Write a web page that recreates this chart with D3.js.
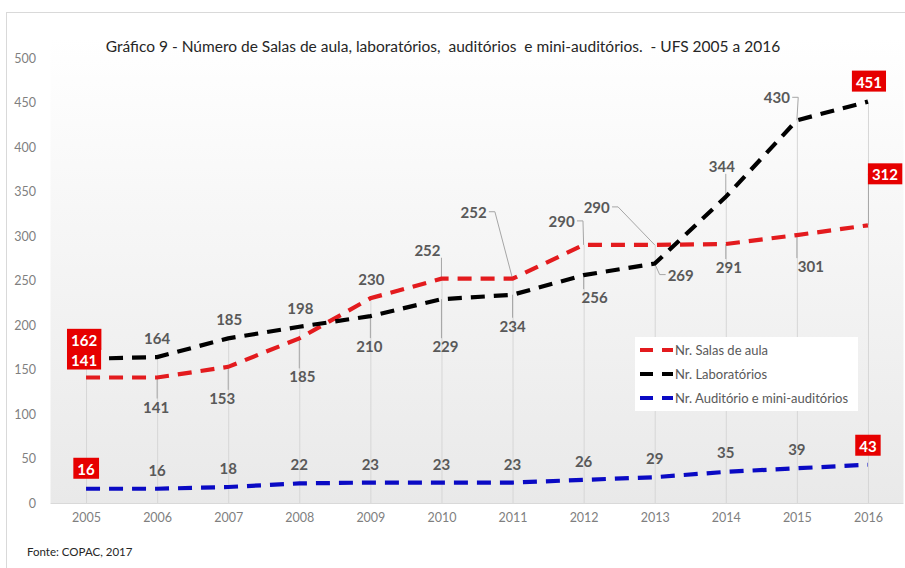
<!DOCTYPE html>
<html><head><meta charset="utf-8">
<script src="https://cdn.jsdelivr.net/npm/d3@7"></script>
<style>
body{margin:0;background:#fff;}
svg{display:block;font-family:Lato,"Open Sans",sans-serif;}
</style></head>
<body><svg id="c" width="905" height="568"></svg>
<script>
const years = ["2005","2006","2007","2008","2009","2010","2011","2012","2013","2014","2015","2016"];
const salas = [141,141,153,185,230,252,252,290,290,291,301,312];
const labs = [162,164,185,198,210,229,234,256,269,344,430,451];
const audit = [16,16,18,22,23,23,23,26,29,35,39,43];
const seriesNames = ["Nr. Salas de aula","Nr. Laboratórios","Nr. Auditório e mini-auditórios"];
const yTicks = [0,50,100,150,200,250,300,350,400,450,500];
const titleText = "Gráfico 9 - Número de Salas de aula, laboratórios,  auditórios  e mini-auditórios.  - UFS 2005 a 2016";
const sourceText = "Fonte: COPAC, 2017";

// label placement offsets (dx, dy from point, in px) -- layout only
const labelOffsets = [
  [[-2,-18],[-1,29],[-6,31],[3,38],[1,-19],[-14,-29],[-39,-67],[-22,-24],[-58,-38],[3,23],[14,31],[17,-51]],
  [[-2,-19],[0,-19],[1,-19],[1,-19],[-1,30],[4,47],[0,31],[11,22],[26,11],[-4,-31],[-20,-23],[1,-20]],
  [[0,-20],[0,-19],[0,-19],[0,-19],[0,-19],[0,-19],[0,-19],[0,-19],[0,-19],[0,-20],[0,-19],[0,-19]]
];

const svg = d3.select("#c");
const plotL = 50.5, plotR = 903.5, plotT = 58, plotB = 503;

const x = d3.scalePoint().domain(years).range([plotL, plotR]).padding(0.5);
const y = d3.scaleLinear().domain([0,500]).range([plotB, plotT]);

// outer border
svg.append("rect").attr("x",6.5).attr("y",12.5).attr("width",1000).attr("height",1000)
  .attr("fill","none").attr("stroke","#d9d9d9");

// gradient plot background
const defs = svg.append("defs");
const g = defs.append("linearGradient").attr("id","bg").attr("x1",0).attr("y1",0).attr("x2",0).attr("y2",1);
g.append("stop").attr("offset","0%").attr("stop-color","#ffffff");
g.append("stop").attr("offset","100%").attr("stop-color","#e9e9e9");
svg.append("rect").attr("x",plotL).attr("y",plotT-20).attr("width",plotR-plotL).attr("height",plotB-plotT+20)
  .attr("fill","url(#bg)");

// axis line
svg.append("line").attr("x1",plotL).attr("x2",plotR).attr("y1",plotB+0.5).attr("y2",plotB+0.5)
  .attr("stroke","#d9d9d9");

// drop lines
const all = [salas, labs, audit];
years.forEach((yr,i)=>{
  const m = d3.max(all, s=>s[i]);
  svg.append("line").attr("x1",x(yr)+0.5).attr("x2",x(yr)+0.5).attr("y1",y(m)).attr("y2",plotB)
    .attr("stroke","#d6d6d6").attr("stroke-width",1);
});

// y axis labels
const yAxis = d3.axisLeft(y).tickValues(yTicks).tickSize(0).tickPadding(0);
const ya = svg.append("g").attr("transform","translate(36,0)").call(yAxis);
ya.select(".domain").remove();
ya.selectAll("text").attr("fill","#7f7f7f").style("font-size","12.5px").style("font-family","Lato,'Open Sans',sans-serif");

// x axis labels
const xAxis = d3.axisBottom(x).tickSize(0).tickPadding(0);
const xa = svg.append("g").attr("transform",`translate(0,${plotB+10})`).call(xAxis);
xa.select(".domain").remove();
xa.selectAll("text").attr("fill","#7f7f7f").style("font-size","12.5px").style("font-family","Lato,'Open Sans',sans-serif");

const colors = ["#e31b1e","#000000","#0a0ac4"];
const line = d3.line().x((d,i)=>x(years[i])).y(d=>y(d));

const leaderG = svg.append("g");
const lines = svg.append("g");
all.forEach((s,k)=>{
  lines.append("path").datum(s).attr("d",line).attr("fill","none")
    .attr("stroke",colors[k]).attr("stroke-width",4.2).attr("stroke-dasharray","14,9");
});

// labels
const labG = svg.append("g");
all.forEach((s,k)=>{
  s.forEach((v,i)=>{
    const px = x(years[i]), py = y(v);
    const [dx,dy] = labelOffsets[k][i];
    const lx = px+dx, ly = py+dy;
    const isBox = (i===0) || (i===11);
    const t = labG.append("text").attr("x",lx).attr("y",ly).attr("text-anchor","middle")
      .attr("dominant-baseline","central").style("font-size","15px").style("font-weight","bold")
      .attr("fill", isBox?"#ffffff":"#595959").text(v);
    const bb = t.node().getBBox();
    if(isBox){
      const pad = 4;
      labG.insert("rect","text").attr("x",bb.x-pad).attr("y",bb.y-2).attr("width",bb.width+2*pad).attr("height",bb.height+3)
        .attr("fill","#e60000");
      if(k===0 && i===11){
        const bl = bb.x-pad;
        leaderG.append("path").attr("d",d3.line()([[bl,ly],[px+0.5,ly],[px+0.5,py]]))
          .attr("fill","none").attr("stroke","#a6a6a6");
      }
      return;
    }
    const dist = Math.hypot(dx,dy);
    if(k<2 && dist>22){
      const bx0=bb.x-2, bx1=bb.x+bb.width+2, by0=bb.y+1, by1=bb.y+bb.height-1;
      let sx, sy, ex=null;
      if(px>bx1){ sx=bx1; sy=ly; ex=[bx1+6,ly]; }
      else if(px<bx0){ sx=bx0; sy=ly; ex=[bx0-6,ly]; }
      else { sx=Math.max(bx0,Math.min(bx1,px)); sy = py<by0?by0:by1; }
      const pts = ex?[[sx,sy],ex,[px,py]]:[[sx,sy],[px,py]];
      leaderG.append("path").attr("d",d3.line()(pts)).attr("fill","none")
        .attr("stroke","#a6a6a6").attr("stroke-width",1);
    }
  });
});

// legend
const lg = svg.append("g");
lg.append("rect").attr("x",635).attr("y",337).attr("width",223).attr("height",74).attr("fill","#ffffff");
seriesNames.forEach((n,k)=>{
  const yy = 350 + k*24;
  lg.append("line").attr("x1",640).attr("x2",673).attr("y1",yy).attr("y2",yy)
    .attr("stroke",colors[k]).attr("stroke-width",4).attr("stroke-dasharray","13,9");
  lg.append("text").attr("x",675).attr("y",yy).attr("dominant-baseline","central")
    .style("font-size","13px").attr("fill","#595959").text(n);
});

// title
svg.append("text").attr("x",443).attr("y",46).attr("text-anchor","middle").attr("dominant-baseline","central")
  .style("font-size","15.5px").style("white-space","pre").attr("fill","#262626").text(titleText);
// source
svg.append("text").attr("x",27).attr("y",551).attr("dominant-baseline","central")
  .style("font-size","11.5px").attr("fill","#262626").text(sourceText);
</script></body></html>
